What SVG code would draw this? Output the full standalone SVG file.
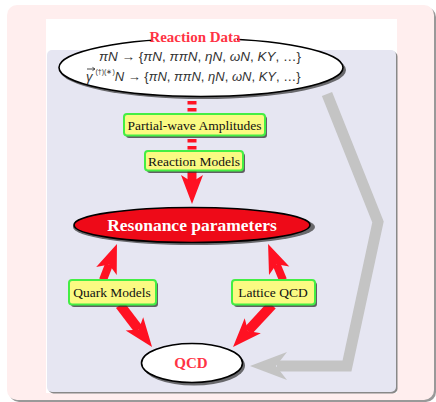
<svg xmlns="http://www.w3.org/2000/svg" width="436" height="402" viewBox="0 0 436 402">
<defs>
<style>
.box{fill:#fafa82;stroke:#44ee44;stroke-width:2}
.bsh{fill:#333;opacity:0.75}
.esh{fill:#333;opacity:0.7}
.lbl{font-family:"Liberation Serif",serif;font-size:13.5px;fill:#111;text-anchor:middle}
.math{font-family:"Liberation Sans",sans-serif;font-size:13.5px;fill:#333}
.it{font-style:italic}
.red{stroke:#ff1122;fill:none}
</style>
<marker id="rh" markerUnits="userSpaceOnUse" viewBox="-8 -12 32 24" refX="0" refY="0" markerWidth="32" markerHeight="24" orient="auto">
<path d="M-7,-11 L22,0 L-7,11 L0,0 Z" fill="#ff1122"/>
</marker>
</defs>
<!-- frame -->
<rect x="9" y="7" width="427" height="395" rx="10" fill="#999"/>
<rect x="7" y="5" width="427" height="395" rx="10" fill="#ffeeee"/>
<rect x="46" y="19" width="351" height="374" fill="#ffffff"/>
<rect x="48.5" y="51.5" width="349" height="342" rx="5" fill="#888"/>
<rect x="47" y="50" width="349" height="342" rx="5" fill="#e6e6f2"/>

<!-- gray feedback arrow -->
<g id="feedback">
<polyline points="327,94 378,222 347,366 277,366" fill="none" stroke="#c4c4c4" stroke-width="11" stroke-linejoin="miter"/>
<polygon points="250,366 287,352 276,366 287,380" fill="#c4c4c4"/>
</g>

<g id="connectors">
<line class="red" x1="192" y1="99" x2="192" y2="114" stroke-width="9" stroke-dasharray="3.5 3.5" stroke-dashoffset="-2"/>
<line class="red" x1="192" y1="137" x2="192" y2="151" stroke-width="9" stroke-dasharray="3.5 3.5" stroke-dashoffset="-2"/>
<line class="red" x1="192" y1="171" x2="192" y2="182" stroke-width="9" marker-end="url(#rh)"/>
<line class="red" x1="103" y1="280" x2="109" y2="264.5" stroke-width="8" marker-end="url(#rh)"/>
<line class="red" x1="283" y1="280" x2="276.5" y2="264.3" stroke-width="8" marker-end="url(#rh)"/>
<line class="red" x1="120" y1="305" x2="138.7" y2="329.5" stroke-width="10" marker-end="url(#rh)"/>
<line class="red" x1="272" y1="305" x2="248" y2="330.9" stroke-width="10" marker-end="url(#rh)"/>
</g>

<g id="reaction-data">
<ellipse class="esh" cx="203" cy="70" rx="143" ry="29"/>
<ellipse cx="201" cy="67.5" rx="142" ry="29" fill="#fff" stroke="#000" stroke-width="1.6"/>
<rect x="153" y="29" width="84" height="16" fill="#fff"/>
<text x="195" y="42" font-family="Liberation Serif,serif" font-size="15" font-weight="bold" fill="#ff3344" text-anchor="middle">Reaction Data</text>
<text class="math" x="200" y="61" text-anchor="middle"><tspan class="it">πN</tspan> → {<tspan class="it">πN</tspan>, <tspan class="it">ππN</tspan>, <tspan class="it">ηN</tspan>, <tspan class="it">ωN</tspan>, <tspan class="it">KY</tspan>, …}</text>
<text class="math" x="86" y="81" style="font-size:13px"><tspan class="it">γ</tspan><tspan style="font-size:7px" dx="3" dy="-7">(†)(∗)</tspan><tspan class="it" dy="7">N</tspan> → {<tspan class="it">πN</tspan>, <tspan class="it">ππN</tspan>, <tspan class="it">ηN</tspan>, <tspan class="it">ωN</tspan>, <tspan class="it">KY</tspan>, …}</text>
<path d="M87,69 L94.5,69 M92.5,67.4 L95,69 L92.5,70.6" fill="none" stroke="#333" stroke-width="0.9"/>
</g>

<g id="partial-wave">
<rect class="bsh" x="126" y="116" width="141" height="22" rx="3"/>
<rect class="box" x="124" y="114" width="141" height="21.5" rx="3"/>
<text class="lbl" x="194.5" y="129.5">Partial-wave Amplitudes</text>
</g>

<g id="reaction-models">
<rect class="bsh" x="147" y="153" width="98" height="20" rx="3"/>
<rect class="box" x="145" y="151" width="98" height="19.5" rx="3"/>
<text class="lbl" x="194" y="165.5">Reaction Models</text>
</g>

<g id="resonance">
<ellipse class="esh" cx="194" cy="227" rx="121" ry="18"/>
<ellipse cx="192" cy="225" rx="118" ry="17.5" fill="#ee0a18" stroke="#000" stroke-width="1.6"/>
<text x="192" y="231" font-family="Liberation Serif,serif" font-size="17.5" font-weight="bold" fill="#fff" text-anchor="middle">Resonance parameters</text>
</g>

<g id="quark-models">
<rect class="bsh" x="71" y="282" width="87" height="25" rx="3"/>
<rect class="box" x="69" y="280" width="87" height="24.5" rx="3"/>
<text class="lbl" x="112" y="297">Quark Models</text>
</g>

<g id="lattice-qcd">
<rect class="bsh" x="234" y="282" width="83" height="25" rx="3"/>
<rect class="box" x="232" y="280" width="83" height="24.5" rx="3"/>
<text class="lbl" x="273" y="297">Lattice QCD</text>
</g>

<g id="qcd">
<ellipse class="esh" cx="194" cy="365.5" rx="51" ry="20"/>
<ellipse cx="192" cy="363" rx="50.5" ry="19.5" fill="#fff" stroke="#000" stroke-width="1.6"/>
<text x="191" y="368" font-family="Liberation Serif,serif" font-size="15" font-weight="bold" fill="#ff3344" text-anchor="middle">QCD</text>
</g>
</svg>
